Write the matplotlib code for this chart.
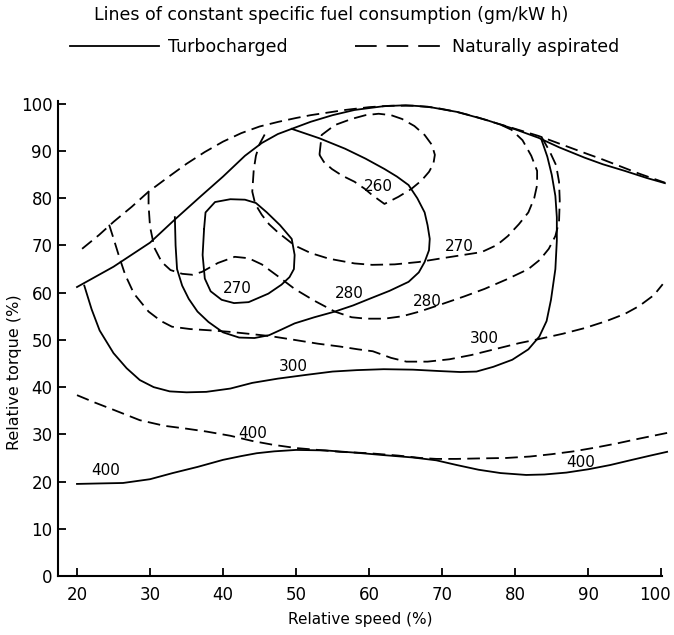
import matplotlib
matplotlib.use("Agg")
import matplotlib.pyplot as plt
import matplotlib.transforms as mtransforms
from matplotlib.lines import Line2D

plt.rcParams['font.family'] = ['DejaVu Sans']

# --- turbocharged (solid) ---
turbo_full_x = [20, 25, 30, 33.4, 37, 40, 43, 45.3, 47.5, 49.4, 52, 55, 58, 62, 65, 68, 72, 76, 80, 83.2, 86, 89.5, 92, 95, 98, 100.5]
turbo_full_y = [61.2, 65.5, 70.6, 75.5, 80.5, 84.6, 89, 91.7, 93.6, 94.7, 96.2, 97.6, 98.7, 99.5, 99.7, 99.4, 98.3, 96.6, 94.6, 92.8, 90.8, 88.6, 87.2, 85.8, 84.3, 83.2]

turbo_400_x = [20, 23, 26.3, 30, 33.1, 36.5, 40, 42.5, 44.6, 47, 50, 54, 58.3, 62, 66, 69.2, 72, 75, 78, 81.5, 84, 87, 90, 93, 96, 98.5, 100.8]
turbo_400_y = [19.5, 19.6, 19.7, 20.5, 21.8, 23.1, 24.6, 25.4, 26, 26.4, 26.7, 26.6, 26.1, 25.6, 25.1, 24.5, 23.5, 22.5, 21.8, 21.4, 21.5, 21.9, 22.6, 23.5, 24.6, 25.5, 26.3]

turbo_300_x = [21, 22, 23.1, 25, 26.8, 28.6, 30.5, 32.7, 35, 37.7, 41, 44, 47.5, 51.4, 55, 58.3, 62, 66, 69.7, 72.5, 74.7, 77, 79.6, 81.8, 83.3, 84.3, 84.9, 85.5, 85.7, 85.7, 85.5, 85, 84.4, 83.6]
turbo_300_y = [61.5, 56.5, 52, 47.2, 44, 41.5, 40, 39.1, 38.9, 39, 39.7, 40.9, 41.8, 42.6, 43.3, 43.6, 43.8, 43.7, 43.4, 43.2, 43.3, 44.3, 45.8, 48, 50.7, 54, 58.5, 65, 71, 76, 80.5, 85, 88.8, 92.4]

turbo_280_x = [33.4, 33.5, 33.7, 34.4, 35.3, 36.5, 38, 40, 42.2, 44.3, 46.3, 48, 49.8, 52.5, 55.3, 57.8, 60.2, 62.8, 65.4, 66.8, 67.6, 68.2, 68.3, 68, 67.6, 66.6, 65.4, 63.8, 62.1, 59.5, 56.7, 53.2, 49.4]
turbo_280_y = [76, 70, 65, 61.5, 58.7, 56, 53.8, 51.6, 50.5, 50.4, 51, 52.2, 53.5, 54.8, 56, 57.3, 58.8, 60.4, 62.3, 64.3, 66.5, 69, 71.4, 74.3, 77, 80, 82.8, 84.6, 86.2, 88.4, 90.5, 92.7, 94.7]

turbo_270_x = [37.4, 37.6, 38.9, 41, 43, 44.5, 46, 47.8, 49.4, 49.8, 49.7, 49.1, 48, 46.2, 43.5, 41.5, 39.8, 38.3, 37.5, 37.2, 37.4]
turbo_270_y = [73.5, 77, 79.2, 79.8, 79.7, 79, 77, 74.3, 71.4, 68, 65, 63.3, 61.7, 59.8, 58, 57.8, 58.5, 60.3, 63, 68, 73.5]

# --- naturally aspirated (dashed) ---
na_full_x = [20.7, 23, 25, 27.5, 29.8, 32.5, 35, 37.5, 40, 42.5, 45, 47.6, 50, 52, 56.7, 60, 63, 66, 69, 72, 74.5, 77.2, 80, 83.2, 86, 89.5, 92, 94.5, 97, 100.5]
na_full_y = [69.3, 72.2, 75, 78.2, 81.4, 84.5, 87.3, 89.8, 92, 93.8, 95.2, 96.2, 97, 97.6, 98.7, 99.3, 99.6, 99.6, 99.2, 98.3, 97.3, 96, 94.7, 93.2, 91.6, 89.6, 88.2, 86.7, 85.2, 83.3]

na_400_x = [20, 22.5, 25, 28.6, 32, 35, 37.7, 41, 44, 46.8, 50, 53, 56, 60, 64, 67, 69.2, 72, 75, 78.8, 82, 85, 88, 91, 94, 97, 100.8]
na_400_y = [38.3, 36.7, 35.2, 33, 31.8, 31.2, 30.6, 29.7, 28.6, 27.8, 27.1, 26.7, 26.3, 26, 25.5, 25, 24.8, 24.8, 24.9, 25, 25.3, 25.8, 26.4, 27.2, 28.1, 29.1, 30.3]

na_300_x = [24.4, 25, 25.8, 26.6, 27.8, 29.8, 31.5, 33, 35.5, 38.5, 41, 43.5, 46.5, 49.8, 53, 56, 58.5, 60.5, 63, 65.1, 68, 71, 74, 77.9, 80.5, 83.3, 86.5, 89.5, 92.5, 95, 97, 99, 100.2]
na_300_y = [74.4, 71.5, 67.5, 63.8, 59.8, 56, 54, 52.8, 52.3, 52, 51.7, 51.3, 50.8, 50, 49.2, 48.6, 48, 47.6, 46.2, 45.4, 45.4, 45.9, 46.8, 48.3, 49.3, 50.2, 51.3, 52.5, 54, 55.5, 57.2, 59.5, 61.8]

na_280_x = [29.8, 29.8, 30, 30.6, 31.6, 32.8, 34.4, 35.8, 37.1, 39.3, 41.6, 43.5, 45.3, 47.5, 49.8, 52.5, 55.3, 57.6, 59.6, 62.1, 64.5, 66.9, 70, 73, 75.8, 78.8, 81.8, 83.4, 84.6, 85.5, 86, 86.1, 86, 85.6, 84.7, 83.6]
na_280_y = [81.4, 78.5, 74, 69.5, 66.5, 64.8, 64, 63.8, 64.4, 66.3, 67.6, 67.3, 66, 63.5, 60.8, 58.3, 56, 54.8, 54.5, 54.5, 55, 56, 57.6, 59.2, 60.8, 62.8, 65, 67, 69.3, 72, 75, 79.5, 83.5, 87, 90, 93]

na_270_x = [45.7, 45, 44.5, 44.2, 44, 44.4, 45.3, 46.3, 47.5, 49.8, 52, 54.5, 58, 60.4, 63.5, 66.8, 70, 72.5, 75.4, 77.5, 79, 80.5, 81.8, 82.6, 83, 83, 82.2, 81, 79.5, 77.7]
na_270_y = [93.5, 91.5, 89, 86, 81.4, 78.8, 76.5, 74.5, 72.8, 70, 68.4, 67.2, 66.2, 65.9, 66, 66.5, 67.3, 67.9, 68.6, 70.1, 72, 74.5, 77, 80, 82.8, 85.8, 89, 92.3, 94.5, 95.8]

na_260_x = [53.2, 53.5, 55.3, 57.6, 59.5, 61.3, 63, 64.5, 66.2, 67.6, 68.6, 69, 68.8, 68.2, 67.2, 65.8, 64, 62.1, 60.4, 59.4, 58, 56.3, 54.9, 53.8, 53.2]
na_260_y = [89.2, 93.4, 95.5, 96.8, 97.6, 97.9, 97.6, 96.8, 95.3, 93.4, 91.3, 89.2, 87.3, 85.6, 83.8, 82, 80.3, 78.8, 80.7, 82, 83.5, 84.8, 86.2, 87.7, 89.2]

# contour labels: (text, x, y)
label_text = ["260", "270", "270", "280", "280", "300", "300", "400", "400", "400"]
label_x = [61.3, 42.0, 72.3, 57.3, 67.9, 49.6, 75.8, 23.9, 44.0, 89.0]
label_y = [82.4, 60.8, 69.8, 59.8, 58.2, 44.3, 50.2, 22.3, 30.2, 24.0]

tick_x = [20, 30, 40, 50, 60, 70, 80, 90, 100]
tick_y = [0, 10, 20, 30, 40, 50, 60, 70, 80, 90, 100]

lw = 1.3
dash = (0, (7, 3.5))

fig = plt.figure(figsize=(6.74, 6.35), dpi=100)
ax = fig.add_axes([58 / 674, 59 / 635, 604 / 674, 475 / 635])

solid = [(turbo_full_x, turbo_full_y), (turbo_400_x, turbo_400_y), (turbo_300_x, turbo_300_y),
         (turbo_280_x, turbo_280_y), (turbo_270_x, turbo_270_y)]
dashed = [(na_full_x, na_full_y), (na_400_x, na_400_y), (na_300_x, na_300_y),
          (na_280_x, na_280_y), (na_270_x, na_270_y), (na_260_x, na_260_y)]

for xs, ys in solid:
    ax.plot(xs, ys, color='black', lw=lw, clip_on=False, solid_joinstyle='round')
for xs, ys in dashed:
    ax.plot(xs, ys, color='black', lw=lw, linestyle=dash, clip_on=False)

for t, x, y in zip(label_text, label_x, label_y):
    ax.text(x, y, t, ha='center', va='center', fontsize=11)

ax.set_xlim(17.4, 100.1)
ax.set_ylim(0, 100.6)
ax.set_xticks(tick_x)
ax.set_yticks(tick_y)
for s in ['top', 'right']:
    ax.spines[s].set_visible(False)
for s in ['left', 'bottom']:
    ax.spines[s].set_linewidth(1.5)
ax.tick_params(direction='in', length=6, width=1.3, labelsize=12)
ax.tick_params(axis='y', pad=4)
ax.tick_params(axis='x', pad=7)

# last x tick label sits at the figure edge, nudge it left a bit
last = ax.get_xticklabels()[-1]
last.set_transform(last.get_transform() + mtransforms.ScaledTranslation(-6 / 100, 0, fig.dpi_scale_trans))

ax.set_xlabel("Relative speed (%)", fontsize=11)
ax.xaxis.set_label_coords(0.5, -0.076)
ax.set_ylabel("Relative torque (%)", fontsize=11.5)
ax.yaxis.set_label_coords(-0.06, 0.43)

fig.text(331 / 674, 1 - 15 / 635, "Lines of constant specific fuel consumption (gm/kW h)",
         ha='center', va='center', fontsize=12.5)

handles = [Line2D([], [], color='black', lw=lw),
           Line2D([], [], color='black', lw=lw, linestyle=(0, (12, 5.5)))]
fig.legend(handles, ["Turbocharged", "Naturally aspirated"], loc='center',
           bbox_to_anchor=(345 / 674, 1 - 47 / 635), ncol=2, frameon=False,
           fontsize=12.5, handlelength=5.1, handletextpad=0.5, columnspacing=3.9)

fig.savefig("out.png", dpi=100)
